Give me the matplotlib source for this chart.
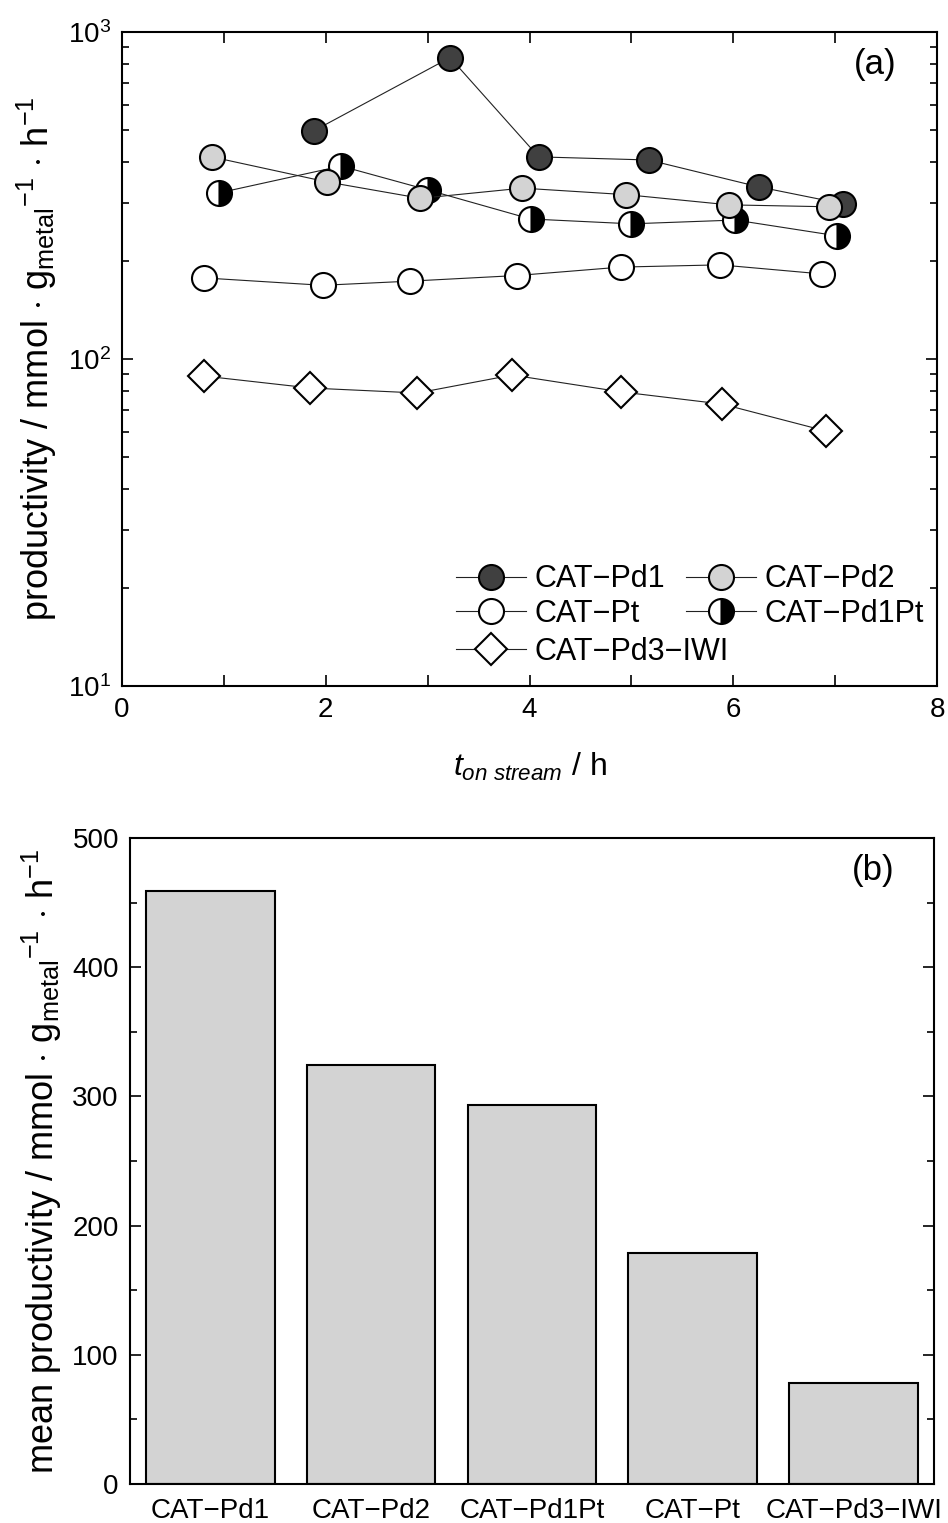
import numpy as np
import matplotlib
matplotlib.use('Agg')
from matplotlib import pyplot as plt
from matplotlib.ticker import MultipleLocator, LogLocator, NullFormatter

plt.rcParams['font.family'] = ['Liberation Sans', 'DejaVu Sans']
plt.rcParams['mathtext.fontset'] = 'custom'
plt.rcParams['mathtext.rm'] = 'Liberation Sans'
plt.rcParams['mathtext.it'] = 'Liberation Sans:italic'
plt.rcParams['mathtext.bf'] = 'Liberation Sans:bold'

# panel (a): productivity vs time on stream
t_pd1 = [1.88, 3.22, 4.09, 5.17, 6.25, 7.08]
p_pd1 = [498, 835, 415, 406, 336, 298]

t_pd2 = [0.88, 2.01, 2.93, 3.93, 4.95, 5.96, 6.94]
p_pd2 = [415, 348, 310, 333, 318, 296, 292]

t_pd1pt = [0.95, 2.15, 3.00, 4.01, 5.00, 6.02, 7.02]
p_pd1pt = [322, 389, 329, 268, 259, 266, 238]

t_pt = [0.80, 1.97, 2.83, 3.88, 4.90, 5.87, 6.87]
p_pt = [177, 168, 173, 180, 191, 194, 182]

t_iwi = [0.80, 1.85, 2.90, 3.83, 4.90, 5.89, 6.91]
p_iwi = [88.7, 81.5, 78.7, 89.3, 79.3, 72.8, 60.2]

# panel (b): mean productivity
catalysts = ['CAT\u2212Pd1', 'CAT\u2212Pd2', 'CAT\u2212Pd1Pt', 'CAT\u2212Pt', 'CAT\u2212Pd3\u2212IWI']
mean_prod = [459, 324, 293, 179, 78]

fig = plt.figure(figsize=(9.48, 15.23), dpi=100)
ax1 = fig.add_axes([0.1287, 0.5496, 0.8597, 0.4294])
ax2 = fig.add_axes([0.1371, 0.0256, 0.8481, 0.4242])

ms = 18
mew = 1.5
lkw = dict(color='#222222', lw=0.8)

h_pd1, = ax1.plot(t_pd1, p_pd1, marker='o', ms=ms, mfc='#404040', mec='black', mew=mew,
                  label='CAT\u2212Pd1', zorder=3, **lkw)
h_pd1pt, = ax1.plot(t_pd1pt, p_pd1pt, marker='o', ms=ms, fillstyle='right', mfc='black',
                    markerfacecoloralt='white', mec='black', mew=mew,
                    label='CAT\u2212Pd1Pt', zorder=4, **lkw)
h_pd2, = ax1.plot(t_pd2, p_pd2, marker='o', ms=ms, mfc='#d3d3d3', mec='black', mew=mew,
                  label='CAT\u2212Pd2', zorder=5, **lkw)
h_pt, = ax1.plot(t_pt, p_pt, marker='o', ms=ms, mfc='white', mec='black', mew=mew,
                 label='CAT\u2212Pt', zorder=3, **lkw)
h_iwi, = ax1.plot(t_iwi, p_iwi, marker='D', ms=16.5, mfc='white', mec='black', mew=mew,
                  label='CAT\u2212Pd3\u2212IWI', zorder=3, **lkw)

ax1.set_yscale('log')
ax1.set_ylim(10, 1000)
ax1.set_xlim(0, 8)
ax1.xaxis.set_major_locator(MultipleLocator(2))
ax1.xaxis.set_minor_locator(MultipleLocator(1))
ax1.yaxis.set_minor_locator(LogLocator(base=10, subs=np.arange(2, 10)))
ax1.yaxis.set_minor_formatter(NullFormatter())
ax1.tick_params(which='both', direction='in', top=True, right=True, labelsize=20, width=1.2)
ax1.tick_params(which='major', length=8, pad=8)
ax1.tick_params(which='minor', length=5)
ax1.tick_params(axis='x', which='minor', length=8)
for s in ax1.spines.values():
    s.set_linewidth(1.5)

ax1.set_xlabel(r'$t_{on\ stream}$ / h', fontsize=23, labelpad=20)
ax1.set_ylabel(r'productivity / mmol $\cdot$ g$_{\mathrm{metal}}$$^{\mathrm{-1}}$ $\cdot$ h$^{\mathrm{-1}}$',
               fontsize=26, labelpad=6)
ax1.text(0.924, 0.95, '(a)', transform=ax1.transAxes, fontsize=25, ha='center', va='center')

leg_kw = dict(frameon=False, fontsize=22, handlelength=2.3, handletextpad=0.25,
              labelspacing=0.15, borderpad=0, borderaxespad=0, loc='upper left')
leg1 = ax1.legend(handles=[h_pd1, h_pt, h_pd2, h_pd1pt], ncol=2, columnspacing=0.7,
                  bbox_to_anchor=(0.410, 0.186), **leg_kw)
ax1.add_artist(leg1)
ax1.legend(handles=[h_iwi], bbox_to_anchor=(0.410, 0.075), **leg_kw)

x = np.arange(len(catalysts))
ax2.bar(x, mean_prod, width=0.8, color='#d3d3d3', edgecolor='black', linewidth=1.5)
ax2.set_xlim(-0.5, 4.5)
ax2.set_ylim(0, 500)
ax2.set_xticks(x)
ax2.set_xticklabels(catalysts)
ax2.yaxis.set_major_locator(MultipleLocator(100))
ax2.yaxis.set_minor_locator(MultipleLocator(50))
ax2.tick_params(axis='y', which='both', direction='in', right=True, labelsize=20, width=1.2)
ax2.tick_params(axis='y', which='major', length=8, pad=8)
ax2.tick_params(axis='y', which='minor', length=5)
ax2.tick_params(axis='x', length=0, labelsize=20, pad=10)
for s in ax2.spines.values():
    s.set_linewidth(1.5)
ax2.set_ylabel(r'mean productivity / mmol $\cdot$ g$_{\mathrm{metal}}$$^{\mathrm{-1}}$ $\cdot$ h$^{\mathrm{-1}}$',
               fontsize=26, labelpad=6)
ax2.text(0.925, 0.95, '(b)', transform=ax2.transAxes, fontsize=25, ha='center', va='center')

fig.savefig('out.png', dpi=100)
